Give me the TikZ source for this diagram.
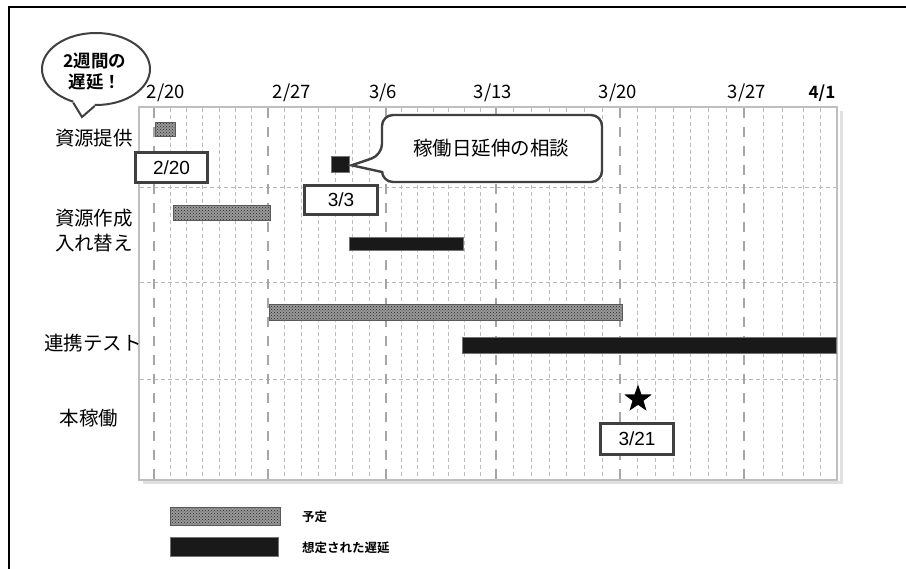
\documentclass[tikz,border=0pt]{standalone}
\usepackage{fontspec}
\setmainfont{Liberation Sans}
\newfontfamily\jp{Noto Sans CJK JP}
\newfontfamily\jpb{Noto Sans CJK JP Bold}
\usetikzlibrary{patterns,shapes.geometric,calc}
\tikzset{
  majorline/.style={draw=black!35, line width=2.3pt, dash pattern=on 10pt off 9pt},
  minorline/.style={draw=black!26, line width=0.9pt, dash pattern=on 4pt off 3pt},
  rowline/.style={draw=black!28, line width=0.9pt, dash pattern=on 4pt off 3pt},
  planbar/.style={draw=black!65, line width=0.8pt, preaction={fill=black!40}, pattern=crosshatch dots, pattern color=black!85, inner sep=0, anchor=north west},
  delaybar/.style={draw=black!55, line width=0.6pt, fill=black!90, inner sep=0, anchor=north west},
  datebox/.style={draw=black!75, line width=2.4pt, fill=white, inner sep=0, font=\fontsize{19}{22}\selectfont},
  axislabel/.style={font=\jp\fontsize{18.5}{20}\selectfont, inner sep=0},
  rowlabel/.style={font=\jp\fontsize{19.5}{22}\selectfont, inner sep=0},
  legendtext/.style={font=\jpb\fontsize{12.5}{14}\selectfont, anchor=west, inner sep=0},
  calloutline/.style={draw=black!75, line width=2.4pt, fill=white},
}
\begin{document}
\begin{tikzpicture}[x=1pt,y=-1pt]
\useasboundingbox (0,0) rectangle (906,569);
\fill[white] (0,0) rectangle (906,569);
% outer frame
\draw[black, line width=1.6pt] (9,569) -- (9,7) -- (906,7);
% chart frame with shadow
\draw[black!12, line width=3pt] (841,111) -- (841,483) -- (143,483);
\draw[black!25, line width=2pt, fill=white] (139,107) rectangle (837,480);
% grid
\foreach \a/\b in {154/268,268/386,386/496,496/620,620/744}{
  \foreach \k in {1,...,6}{
    \draw[minorline] ({\a+\k*(\b-\a)/7},108) -- ({\a+\k*(\b-\a)/7},479);
  }
}
\foreach \x in {763,782,803,820}{\draw[minorline] (\x,108) -- (\x,479);}
\foreach \y in {187,282,379}{\draw[rowline] (140,\y) -- (836,\y);}
\foreach \x in {154,268,386,496,620,744}{\draw[majorline] (\x,108) -- (\x,479);}
% axis labels
\node[axislabel] (d1) at (166,93) {2/20};
\node[axislabel] (d2) at (292,93) {2/27};
\node[axislabel] (d3) at (383,93) {3/6};
\node[axislabel] (d4) at (493,93) {3/13};
\node[axislabel] (d5) at (618,93) {3/20};
\node[axislabel] (d6) at (747,93) {3/27};
\node[font=\jpb\fontsize{17}{20}\selectfont, inner sep=0] (d7) at (822,93) {4/1};
% row labels
\node[rowlabel] (r1) at (94,138) {資源提供};
\node[rowlabel] (r2a) at (94,218) {資源作成};
\node[rowlabel] (r2b) at (94,243) {入れ替え};
\node[rowlabel] (r3) at (93,343) {連携テスト};
\node[rowlabel] (r4) at (89,418) {本稼働};
% bars
\node[planbar, minimum width=20pt, minimum height=14pt] (p1) at (155,122) {};
\node[delaybar, minimum width=18pt, minimum height=16pt] (k1) at (331,156) {};
\node[planbar, minimum width=97pt, minimum height=15pt] (p2) at (173,205) {};
\node[delaybar, minimum width=114pt, minimum height=13pt] (k2) at (349,237) {};
\node[planbar, minimum width=353pt, minimum height=16pt] (p3) at (269,304) {};
\node[delaybar, minimum width=374pt, minimum height=16pt] (k3) at (462,337) {};
% milestone star
\node[star, star points=5, star point ratio=2.5, fill=black, minimum size=29pt, inner sep=0] (st) at (638,399) {};
% date boxes
\node[datebox, minimum width=72pt, minimum height=30pt] (b1) at (171.5,167.5) {2/20};
\node[datebox, minimum width=73pt, minimum height=29pt] (b2) at (341,200) {3/3};
\node[datebox, minimum width=73pt, minimum height=31pt] (b3) at (637,439) {3/21};
% callout
\coordinate (ctip) at ($(k1.east)+(2,1)$);
\draw[calloutline, rounded corners=11pt] (382,172) -- (382,182) -- (602,182) -- (602,115) -- (382,115) -- (382,155) [sharp corners] -- (ctip) -- cycle;
\node[font=\jp\fontsize{19.5}{22}\selectfont, inner sep=0] (ct) at (491,148) {稼働日延伸の相談};
% speech bubble
\node[ellipse, draw=black!75, line width=2pt, fill=white, minimum width=108pt, minimum height=72pt, inner sep=0] (bub) at (96,69) {};
\coordinate (btip) at (82,117);
\fill[white] (bub.236) -- (btip) -- (bub.268) -- ([yshift=6pt]bub.268) -- ([yshift=6pt]bub.236) -- cycle;
\draw[draw=black!75, line width=2pt, line join=miter] (bub.236) -- (btip) -- (bub.268);
\node[font=\jpb\fontsize{17.5}{21}\selectfont, align=center, inner sep=0] (bt) at (95,72) {2週間の\\遅延！};
% legend
\node[planbar, minimum width=110pt, minimum height=18pt] (lp) at (170,507) {};
\node[delaybar, minimum width=108pt, minimum height=19pt] (lk) at (170,537) {};
\node[legendtext] (lpt) at (302,517) {予定};
\node[legendtext] (lkt) at (302,548) {想定された遅延};
\end{tikzpicture}
\end{document}
